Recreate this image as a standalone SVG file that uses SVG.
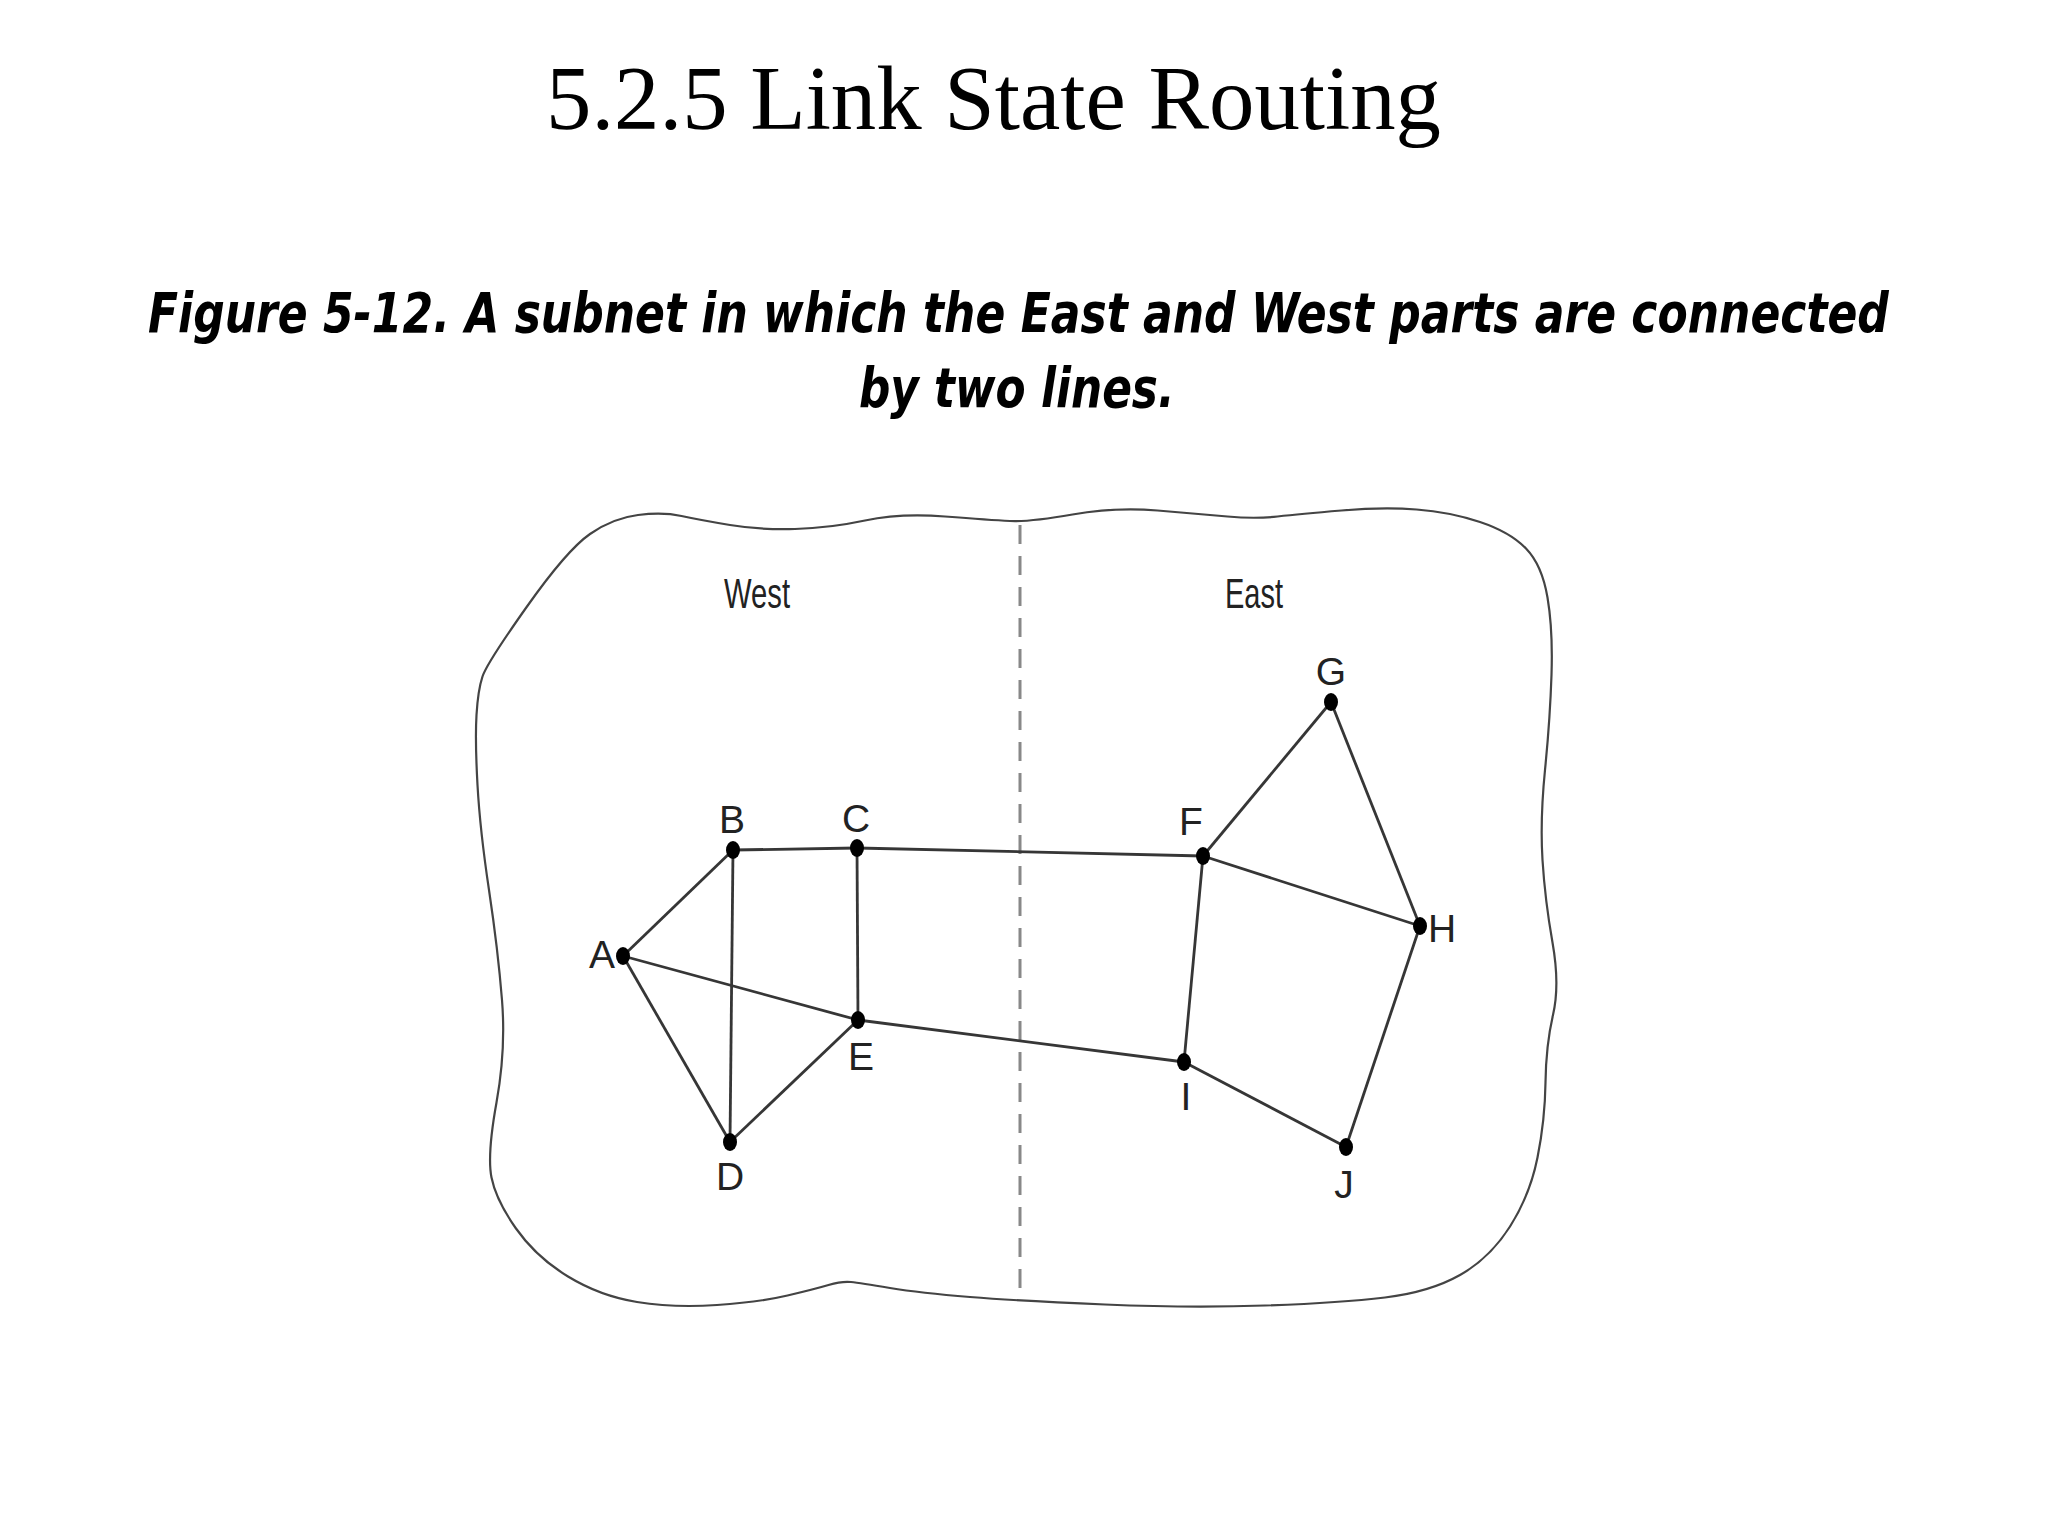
<svg xmlns="http://www.w3.org/2000/svg" width="2048" height="1536" viewBox="0 0 2048 1536">
<style>
.title{font-family:"Liberation Serif","Times New Roman",serif;font-size:90px;fill:#000}
.cap{font-family:"DejaVu Sans","Liberation Sans",sans-serif;font-size:56px;font-weight:bold;font-style:italic;fill:#000}
.region{font-family:"Liberation Sans",Arial,sans-serif;font-size:42px;fill:#222;text-anchor:middle}
.lbl{font-family:"Liberation Sans",Arial,sans-serif;font-size:39px;fill:#222;text-anchor:middle}
.edge{stroke:#363636;stroke-width:2.8;fill:none}
.dot{fill:#000}
</style>
<rect width="2048" height="1536" fill="#fff"/>
<text class="title" x="546" y="129" textLength="895" lengthAdjust="spacingAndGlyphs">5.2.5 Link State Routing</text>
<g transform="scale(0.7,1)">
<text class="cap" x="211.4" y="332" textLength="2487" lengthAdjust="spacingAndGlyphs">Figure 5-12. A subnet in which the East and West parts are connected</text>
<text class="cap" x="1227" y="407" textLength="451" lengthAdjust="spacingAndGlyphs">by two lines.</text>
</g>
<g id="boundary">
<path d="M527,606.5 Q567,550 590,534 Q613,518 638,515 Q663,512 681.5,516 Q700,520 730,525 Q760,530 795,529 Q830,528 865,520.5 Q900,513 945,516.5 Q990,520 1010,521 Q1030,522 1072.5,514.5 Q1115,507 1157.5,510.5 Q1200,514 1227.5,516.5 Q1255,519 1277.5,516.5 Q1300,514 1341.5,510.5 Q1383,507 1416.5,509.5 Q1450,512 1480,522 Q1510,532 1526,548.5 Q1542,565 1547.5,597.5 Q1553,630 1551.5,675 Q1550,720 1545,770 Q1540,820 1542.5,860 Q1545,900 1552.5,942.5 Q1560,985 1553,1015 Q1546,1045 1545.5,1082.5 Q1545,1120 1537.5,1157.5 Q1530,1195 1510,1226.5 Q1490,1258 1460,1275 Q1430,1292 1385,1297.5 Q1340,1303 1265,1305.5 Q1190,1308 1105,1304.5 Q1020,1301 970,1297 Q920,1293 890,1288 Q860,1283 851,1282 Q842,1281 828.5,1285 Q815,1289 787.5,1295.5 Q760,1302 717,1305 Q674,1308 637,1302 Q600,1296 568,1276.5 Q536,1257 516,1228.5 Q496,1200 491.5,1177.5 Q487,1155 496.5,1102.5 Q506,1050 502,1000 Q498,950 489,890 Q480,830 477.5,785 Q475,740 476.5,715 Q478,690 482.5,676.5 Q487,663 527,606.5 Z" fill="none" stroke="#444" stroke-width="2.2"/>
<line x1="1020" y1="525" x2="1020" y2="1300" stroke="#888" stroke-width="3" stroke-dasharray="19 12"/>
<text class="region" x="757" y="608" textLength="66" lengthAdjust="spacingAndGlyphs">West</text>
<text class="region" x="1254" y="608" textLength="58" lengthAdjust="spacingAndGlyphs">East</text>
</g>
<g id="connectors">
<line class="edge" x1="623" y1="956" x2="733" y2="850"/>
<line class="edge" x1="623" y1="956" x2="730" y2="1142"/>
<line class="edge" x1="623" y1="956" x2="858" y2="1020"/>
<line class="edge" x1="733" y1="850" x2="857" y2="848"/>
<line class="edge" x1="733" y1="850" x2="730" y2="1142"/>
<line class="edge" x1="857" y1="848" x2="858" y2="1020"/>
<line class="edge" x1="857" y1="848" x2="1203" y2="856"/>
<line class="edge" x1="730" y1="1142" x2="858" y2="1020"/>
<line class="edge" x1="858" y1="1020" x2="1184" y2="1062"/>
<line class="edge" x1="1203" y1="856" x2="1331" y2="702"/>
<line class="edge" x1="1203" y1="856" x2="1420" y2="926"/>
<line class="edge" x1="1203" y1="856" x2="1184" y2="1062"/>
<line class="edge" x1="1331" y1="702" x2="1420" y2="926"/>
<line class="edge" x1="1420" y1="926" x2="1346" y2="1147"/>
<line class="edge" x1="1184" y1="1062" x2="1346" y2="1147"/>
</g>
<g id="node-A"><ellipse class="dot" cx="623" cy="956" rx="7" ry="9"/><text class="lbl" x="602" y="968">A</text></g>
<g id="node-B"><ellipse class="dot" cx="733" cy="850" rx="7" ry="9"/><text class="lbl" x="732" y="833">B</text></g>
<g id="node-C"><ellipse class="dot" cx="857" cy="848" rx="7" ry="9"/><text class="lbl" x="856" y="832">C</text></g>
<g id="node-D"><ellipse class="dot" cx="730" cy="1142" rx="7" ry="9"/><text class="lbl" x="730" y="1190">D</text></g>
<g id="node-E"><ellipse class="dot" cx="858" cy="1020" rx="7" ry="9"/><text class="lbl" x="861" y="1070">E</text></g>
<g id="node-F"><ellipse class="dot" cx="1203" cy="856" rx="7" ry="9"/><text class="lbl" x="1191" y="835">F</text></g>
<g id="node-G"><ellipse class="dot" cx="1331" cy="702" rx="7" ry="9"/><text class="lbl" x="1331" y="685">G</text></g>
<g id="node-H"><ellipse class="dot" cx="1420" cy="926" rx="7" ry="9"/><text class="lbl" x="1442" y="942">H</text></g>
<g id="node-I"><ellipse class="dot" cx="1184" cy="1062" rx="7" ry="9"/><text class="lbl" x="1186" y="1110">I</text></g>
<g id="node-J"><ellipse class="dot" cx="1346" cy="1147" rx="7" ry="9"/><text class="lbl" x="1344" y="1198">J</text></g>
</svg>
